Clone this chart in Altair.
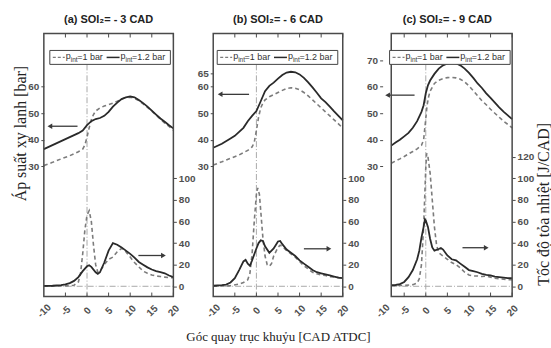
import altair as alt
import pandas as pd

# ---------------- data ----------------
X_TICKS = [-10, -5, 0, 5, 10, 15, 20]

# panel (a) SOI2 = -3 CAD
A_P1_X = [-10, -8, -6, -4, -2, -1, -0.5, 0, 0.5, 1, 1.5, 2, 3, 4, 5, 6, 7, 8, 9, 10, 11, 12, 13, 14, 15, 16, 17, 18, 19, 20]
A_P1_Y = [30.3, 31.5, 32.8, 34, 35.5, 36.5, 38, 41, 44.5, 47.5, 49.5, 50.8, 52, 52.7, 53.2, 53.8, 54.5, 55.3, 55.9, 56, 55.6, 54.8, 53.5, 52.2, 50.8, 49.3, 47.8, 46.3, 45, 43.6]
A_P2_X = [-10, -8, -6, -4, -2, -1, 0, 1, 2, 3, 4, 5, 6, 7, 8, 9, 10, 11, 12, 13, 14, 15, 16, 17, 18, 19, 20]
A_P2_Y = [36.5, 38, 39.5, 41, 42.5, 43.5, 45.5, 47, 47.8, 48.2, 49, 50.5, 52.5, 54, 55.3, 56, 56.3, 56, 55, 53.8, 52.5, 51, 49.5, 48, 46.8, 45.5, 44.3]
A_H1_X = [-10, -4, -3, -2, -1.5, -1, -0.5, 0, 0.5, 1, 1.5, 2, 2.5, 3, 4, 5, 6, 7, 8, 9, 10, 11, 12, 13, 14, 15, 16, 17, 18, 19, 20]
A_H1_Y = [0, 0.5, 1, 4, 12, 30, 52, 66, 70, 60, 38, 20, 13, 14, 20, 25, 27, 32, 35, 32, 27, 22, 18, 14, 12, 10.5, 9.5, 9, 8.5, 8, 8]
A_H2_X = [-10, -8, -6, -5, -4, -3, -2, -1, 0, 0.5, 1, 2, 2.5, 3, 4, 5, 6, 7, 8, 9, 10, 11, 12, 13, 14, 15, 16, 17, 18, 19, 20]
A_H2_Y = [0.3, 0.5, 1, 1.8, 3, 5, 8.5, 14, 18.5, 19.5, 18, 13, 11.5, 13, 22, 33, 40, 38.5, 36, 33, 30, 26.5, 22.5, 20, 17.5, 15.5, 14, 13, 12, 10, 8.5]

# panel (b) SOI2 = -6 CAD
B_P1_X = [-10, -8, -6, -4, -2, -1, -0.5, 0, 0.5, 1, 1.5, 2, 3, 4, 5, 6, 7, 8, 9, 10, 11, 12, 13, 14, 15, 16, 17, 18, 19, 20]
B_P1_Y = [30.5, 31.7, 33, 34.3, 36, 37.3, 39, 43.5, 48.5, 52, 53.8, 55, 56.2, 57, 57.8, 58.6, 59.3, 59.6, 59.4, 58.8, 57.8, 56.5, 55, 53.5, 52, 50.5, 49, 47.5, 46, 44.4]
B_P2_X = [-10, -8, -6, -5, -4, -3, -2, -1, 0, 1, 2, 3, 4, 5, 6, 7, 8, 9, 10, 11, 12, 13, 14, 15, 16, 17, 18, 19, 20]
B_P2_Y = [37, 38.5, 40.5, 41.5, 43, 44.5, 47, 49, 50.8, 54.5, 58.3, 60.3, 61.5, 63, 64.4, 65.3, 65.6, 65.4, 64.6, 63.3, 61.6, 59.7, 57.7, 55.6, 54.2, 52.5, 50.7, 49, 47.3]
B_H1_X = [-10, -6, -4, -3, -2, -1.5, -1, -0.5, 0, 0.3, 0.7, 1, 1.5, 2, 2.5, 3, 3.5, 4, 5, 5.5, 6, 7, 8, 9, 10, 11, 12, 13, 14, 15, 16, 17, 18, 19, 20]
B_H1_Y = [0, 0.5, 2, 3.5, 6, 12, 30, 60, 85, 91, 85, 70, 45, 28, 20, 18.5, 21, 28, 36, 38, 37, 33, 30, 27, 23, 19, 16, 13, 11.5, 10.5, 10, 9, 8.5, 8, 7.5]
B_H2_X = [-10, -8, -7, -6, -5, -4, -3, -2.5, -2, -1.5, -1, 0, 0.5, 1, 1.5, 2, 3, 4, 5, 5.5, 6, 7, 8, 9, 10, 11, 12, 13, 14, 15, 16, 17, 18, 19, 20]
B_H2_Y = [0.5, 1, 1.5, 3.5, 7.5, 15, 23, 24.5, 21, 19, 24, 35, 40, 42.5, 42, 37, 31, 35, 41.5, 42, 39, 34, 31, 28, 24, 21, 18, 15, 13, 12, 11, 10, 9, 8, 7.5]

# panel (c) SOI2 = -9 CAD
C_P1_X = [-8, -7, -6, -5, -4, -3, -2, -1, -0.5, 0, 0.3, 0.7, 1, 2, 3, 4, 5, 6, 7, 8, 9, 10, 11, 12, 13, 14, 15, 16, 17, 18, 19, 20]
C_P1_Y = [31.2, 32, 32.8, 33.7, 34.7, 35.6, 36.6, 37.9, 40, 48, 53, 56.5, 58.3, 61.2, 62.4, 63, 63.4, 63.5, 63.3, 62.8, 61.8, 60.3, 58.5, 56.6, 54.7, 53.2, 51.5, 50, 48.5, 47, 45.8, 44.5]
C_P2_X = [-8, -7, -6, -5, -4, -3, -2, -1, -0.5, 0, 0.5, 1, 2, 3, 4, 5, 6, 7, 8, 9, 10, 11, 12, 13, 14, 15, 16, 17, 18, 19, 20]
C_P2_Y = [37.8, 39, 40, 41.3, 42.6, 44.5, 47, 50.5, 53, 57.5, 60.5, 62.3, 64.8, 66.8, 68, 68.7, 69, 68.8, 68, 66.8, 65.2, 63.3, 61.2, 59.5, 57.5, 55.8, 54, 52.2, 50.6, 49.2, 47.8]
C_H1_X = [-8, -5, -3, -2, -1.5, -1, -0.5, 0, 0.2, 0.5, 1, 1.5, 2, 2.5, 3, 4, 5, 6, 7, 8, 9, 10, 11, 12, 13, 14, 15, 16, 17, 18, 19, 20]
C_H1_Y = [0.5, 0.8, 1.5, 3, 7, 20, 55, 110, 123, 120, 105, 80, 55, 38, 31, 28, 25, 22, 20, 17, 13, 10.5, 9.5, 9.5, 9, 9.5, 8.5, 7.5, 7, 6.5, 6, 6]
C_H2_X = [-8, -7, -6, -5, -4, -3, -2, -1.5, -1, -0.5, -0.2, 0, 0.5, 1, 1.5, 2, 3, 3.5, 4, 5, 6, 7, 8, 9, 10, 11, 12, 13, 14, 15, 16, 17, 18, 19, 20]
C_H2_Y = [1, 1.2, 2, 4, 8.5, 15, 25, 33, 45, 55, 62, 61, 55, 44, 36, 33, 34.5, 35.5, 34, 28.5, 25, 24, 21, 18, 15, 14, 13, 11.5, 10.5, 10, 9, 8.5, 8, 7.5, 7.5]

# axis tick values
A_P_TICKS = [30, 40, 50, 60]
B_P_TICKS = [30, 40, 50, 60, 65]
C_P_TICKS = [30, 40, 50, 60, 70]
AB_H_TICKS = [0, 20, 40, 60, 80, 100]
C_H_TICKS = [0, 20, 40, 60, 80, 100, 120]

# annotation arrows (data units): [x_head, x_tail], level
A_LARROW_X, A_LARROW_Y = [-8.6, -2.2], 45.1
A_RARROW_X, A_RARROW_Y = [11.9, 17.7], 28.5
B_LARROW_X, B_LARROW_Y = [-8.4, -1.7], 57.1
B_RARROW_X, B_RARROW_Y = [11.0, 16.8], 34.7
C_LARROW_X, C_LARROW_Y = [-8.85, -2.6], 56.8
C_RARROW_X, C_RARROW_Y = [8.5, 14.0], 35.7

TITLES = ["(a) SOI\u2082= - 3 CAD", "(b) SOI\u2082= - 6 CAD", "(c) SOI\u2082= - 9 CAD"]
P_TITLE = "Áp suất xy lanh [bar]"
H_TITLE = "Tốc độ tỏa nhiệt [J/CAD]"
X_TITLE = "Góc quay trục khuỷu [CAD ATDC]"

# ---------------- style ----------------
W, H = 130, 264
P_DOM = [-19, 80]
HR_DOM = [-9.5, 234]
DARK = "#2a2a2a"
GRAY = "#7c7c7c"
FRAME = "#4a4a4a"
REFC = "#aaaaaa"
LBL = "#505050"
SANS = "Liberation Sans"
SERIF = "Liberation Serif"


def df(xs, ys):
    return pd.DataFrame({"x": xs, "y": ys})


ONE = pd.DataFrame({"k": [0]})


def make_x(xtitle, field="x"):
    ax = alt.Axis(values=X_TICKS, labelExpr="'' + datum.value", labelAngle=-45, labelAlign="center",
                  labelBaseline="middle", labelPadding=14, ticks=False, domain=False,
                  grid=False, labelFont=SANS, labelFontWeight="bold", labelColor=LBL,
                  labelFontSize=10, titleX=65, titleY=40, titleAlign="center",
                  titleBaseline="middle", titleFont=SERIF, titleFontSize=13,
                  titleFontWeight="normal", titleColor="#222")
    return alt.X(f"{field}:Q", scale=alt.Scale(domain=[-10, 20], nice=False, zero=False),
                 axis=ax, title=xtitle)


def make_p(ticks, title):
    ax = alt.Axis(orient="left", values=ticks, format="d", ticks=True, tickSize=3,
                  tickColor=FRAME, domain=False, grid=False, labelPadding=2,
                  labelFont=SANS, labelFontWeight="bold", labelColor=LBL, labelFontSize=10,
                  titleX=-23, titleY=100, titleAngle=270, titleAlign="center",
                  titleBaseline="middle", titleFont=SERIF, titleFontSize=16,
                  titleFontWeight="normal", titleColor="#222")
    return alt.Y("y:Q", scale=alt.Scale(domain=P_DOM, nice=False, zero=False), axis=ax, title=title)


def make_h(ticks, title):
    ax = alt.Axis(orient="right", values=ticks, format="d", ticks=True, tickSize=3,
                  tickColor=FRAME, domain=False, grid=False, labelPadding=2,
                  labelFont=SANS, labelFontWeight="bold", labelColor=LBL, labelFontSize=10,
                  titleX=31, titleY=171, titleAngle=270, titleAlign="center",
                  titleBaseline="middle", titleFont=SERIF, titleFontSize=16,
                  titleFontWeight="normal", titleColor="#222")
    return alt.Y("y:Q", scale=alt.Scale(domain=HR_DOM, nice=False, zero=False), axis=ax, title=title)


def text_item(txt, x, y, size=9):
    return alt.Chart(ONE).mark_text(align="left", baseline="middle", font=SANS,
                                    fontSize=size, color="#333").encode(
        x=alt.value(x), y=alt.value(y), text=alt.value(txt))


def panel(title, xleft, p1, p2, h1, h2, p_ticks, h_ticks, larrow, rarrow,
          legend_left, p_title, h_title, x_title):
    X = lambda f="x": make_x(x_title, f)
    PY = make_p(p_ticks, p_title)
    HY = make_h(h_ticks, h_title)

    p_dash = alt.Chart(df(*p1)).mark_line(color=GRAY, strokeDash=[4, 3], strokeWidth=1.6).encode(x=X(), y=PY)
    p_sol = alt.Chart(df(*p2)).mark_line(color=DARK, strokeWidth=1.8).encode(x=X(), y=PY)
    la_line = alt.Chart(df(larrow[0], [larrow[1]] * 2)).mark_line(color="#3a3a3a", strokeWidth=1.3).encode(x=X(), y=PY)
    la_head = alt.Chart(df(larrow[0][:1], [larrow[1]])).mark_point(
        shape="triangle-left", filled=True, size=30, color="#3a3a3a", opacity=1).encode(x=X(), y=PY)
    pressure = alt.layer(p_dash, p_sol, la_line, la_head)

    zero = alt.Chart(pd.DataFrame({"x": [xleft], "x2": [20], "y": [0]})).mark_rule(
        color=REFC, strokeDash=[6, 2, 1, 2], strokeWidth=1).encode(x=X(), x2="x2:Q", y=HY)
    h_dash = alt.Chart(df(*h1)).mark_line(color=GRAY, strokeDash=[4, 3], strokeWidth=1.6).encode(x=X(), y=HY)
    h_sol = alt.Chart(df(*h2)).mark_line(color=DARK, strokeWidth=1.8).encode(x=X(), y=HY)
    ra_line = alt.Chart(df(rarrow[0], [rarrow[1]] * 2)).mark_line(color="#3a3a3a", strokeWidth=1.3).encode(x=X(), y=HY)
    ra_head = alt.Chart(df(rarrow[0][1:], [rarrow[1]])).mark_point(
        shape="triangle-right", filled=True, size=30, color="#3a3a3a", opacity=1).encode(x=X(), y=HY)
    hrr = alt.layer(zero, h_dash, h_sol, ra_line, ra_head)

    vline = alt.Chart(pd.DataFrame({"x": [0]})).mark_rule(
        color=REFC, strokeDash=[6, 2, 1, 2], strokeWidth=1).encode(x=X(), y=alt.value(31), y2=alt.value(H))

    frame = alt.Chart(pd.DataFrame({"x": [xleft], "x2": [20]})).mark_rect(
        fill="white", fillOpacity=0, stroke=FRAME, strokeWidth=1.5).encode(
        x=X(), x2="x2:Q", y=alt.value(0), y2=alt.value(H))
    tk = pd.DataFrame({"x": [t for t in X_TICKS if t > xleft]})
    ticks_b = alt.Chart(tk).mark_rule(color=FRAME, strokeWidth=1).encode(x=X(), y=alt.value(H), y2=alt.value(H - 4))
    ticks_t = alt.Chart(tk).mark_rule(color=FRAME, strokeWidth=1).encode(x=X(), y=alt.value(0), y2=alt.value(4))

    lx = legend_left
    box = alt.Chart(ONE).mark_rect(fill="white", stroke="#444", strokeWidth=1).encode(
        x=alt.value(lx), x2=alt.value(lx + 121), y=alt.value(17), y2=alt.value(31))
    s_dash = alt.Chart(ONE).mark_rule(color=GRAY, strokeDash=[3, 2], strokeWidth=1.3).encode(
        x=alt.value(lx + 3), x2=alt.value(lx + 15), y=alt.value(24))
    s_sol = alt.Chart(ONE).mark_rule(color=DARK, strokeWidth=1.5).encode(
        x=alt.value(lx + 57), x2=alt.value(lx + 70), y=alt.value(24))
    legend = [box, s_dash, s_sol,
              text_item("p", lx + 16, 23), text_item("int", lx + 21, 27, 6.5), text_item("=1 bar", lx + 27.5, 24),
              text_item("p", lx + 71, 23), text_item("int", lx + 76, 27, 6.5), text_item("=1.2 bar", lx + 82.5, 24)]

    return alt.layer(vline, pressure, hrr, frame, ticks_b, ticks_t, *legend).resolve_scale(
        y="independent").properties(
        width=W, height=H,
        title=alt.TitleParams(TITLES[title], font=SANS, fontSize=11, fontWeight="bold",
                              color="#222", anchor="middle", offset=8))


pa = panel(0, -10, (A_P1_X, A_P1_Y), (A_P2_X, A_P2_Y), (A_H1_X, A_H1_Y), (A_H2_X, A_H2_Y),
           A_P_TICKS, AB_H_TICKS, (A_LARROW_X, A_LARROW_Y), (A_RARROW_X, A_RARROW_Y),
           6, P_TITLE, None, None)
pb = panel(1, -10, (B_P1_X, B_P1_Y), (B_P2_X, B_P2_Y), (B_H1_X, B_H1_Y), (B_H2_X, B_H2_Y),
           B_P_TICKS, AB_H_TICKS, (B_LARROW_X, B_LARROW_Y), (B_RARROW_X, B_RARROW_Y),
           4, None, None, X_TITLE)
pc = panel(2, -8, (C_P1_X, C_P1_Y), (C_P2_X, C_P2_Y), (C_H1_X, C_H1_Y), (C_H2_X, C_H2_Y),
           C_P_TICKS, C_H_TICKS, (C_LARROW_X, C_LARROW_Y), (C_RARROW_X, C_RARROW_Y),
           7, None, H_TITLE, None)

chart = alt.hconcat(pa, pb, pc, spacing=40, bounds="flush").properties(
    padding={"left": 12, "top": 13, "right": 0, "bottom": 0},
    autosize=alt.AutoSizeParams(type="pad"),
    background="white",
).configure_view(stroke=None)

chart.save("out.html", embed_options={"renderer": "svg", "actions": False})
